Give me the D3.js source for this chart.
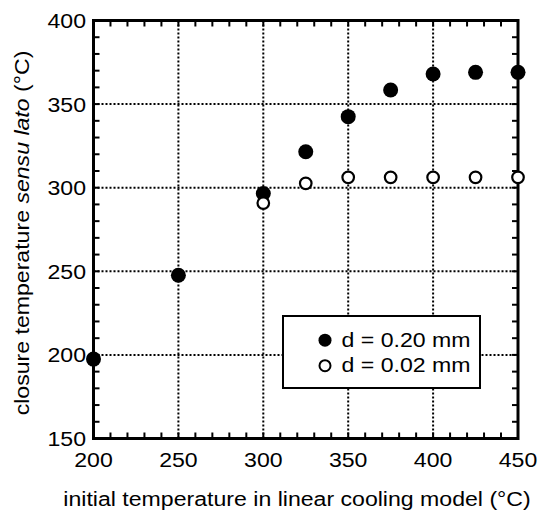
<!DOCTYPE html>
<html>
<head>
<meta charset="utf-8">
<script src="https://cdn.jsdelivr.net/npm/d3@7/dist/d3.min.js"></script>
<style>
  html, body { margin: 0; padding: 0; background: #fff; }
  svg { display: block; }
  text { font-family: "Liberation Sans", Arial, Helvetica, sans-serif; fill: #000; }
</style>
</head>
<body>
<svg id="chart" width="538" height="513"></svg>
<script>
// Initial temperature of the linear cooling model (°C)
const initialTemps = [200, 250, 300, 325, 350, 375, 400, 425, 450];
// Closure temperature for grain size d = 0.20 mm
const closureThick = [197.5, 247.6, 296.5, 321.5, 342.5, 358.4, 368, 369, 369];
// Closure temperature for grain size d = 0.02 mm (starts at 300 °C)
const initialTempsThin = [300, 325, 350, 375, 400, 425, 450];
const closureThin = [290.8, 302.6, 306.2, 306.2, 306.2, 306.2, 306.2];

const xTicks = [200, 250, 300, 350, 400, 450];
const yTicks = [150, 200, 250, 300, 350, 400];
const legendLabels = ["d = 0.20 mm", "d = 0.02 mm"];

const svg = d3.select("#chart");
const x = d3.scaleLinear().domain([200, 450]).range([93.5, 518]);
const y = d3.scaleLinear().domain([150, 400]).range([438.5, 20.5]);
const [x0, x1] = x.range();
const [y0, y1] = y.range();

// Helvetica-like lettering, slightly wide
const FS = 21, WIDE = 1.1;
const place = (px, py, rot) =>
  `translate(${px},${py})` + (rot ? ` rotate(${rot})` : "") + ` scale(${WIDE},1)`;

// dotted grid at the major values
const grid = svg.append("g")
  .attr("stroke", "#000").attr("stroke-width", 2).attr("stroke-dasharray", "2,2");
grid.selectAll("line.gx").data(xTicks.slice(1, -1)).join("line")
  .attr("x1", d => x(d)).attr("x2", d => x(d)).attr("y1", y1).attr("y2", y0);
grid.selectAll("line.gy").data(yTicks.slice(1, -1)).join("line")
  .attr("y1", d => y(d)).attr("y2", d => y(d)).attr("x1", x0).attr("x2", x1);

// minor ticks every 10 °C, pointing inward on all four sides
const minorX = d3.range(200, 451, 10);
const minorY = d3.range(150, 401, 10);
const tk = 6;
const ticks = svg.append("g").attr("stroke", "#000").attr("stroke-width", 2);
ticks.selectAll("line.b").data(minorX).join("line")
  .attr("x1", d => x(d)).attr("x2", d => x(d)).attr("y1", y0).attr("y2", y0 - tk);
ticks.selectAll("line.t").data(minorX).join("line")
  .attr("x1", d => x(d)).attr("x2", d => x(d)).attr("y1", y1).attr("y2", y1 + tk);
ticks.selectAll("line.l").data(minorY).join("line")
  .attr("y1", d => y(d)).attr("y2", d => y(d)).attr("x1", x0).attr("x2", x0 + tk);
ticks.selectAll("line.r").data(minorY).join("line")
  .attr("y1", d => y(d)).attr("y2", d => y(d)).attr("x1", x1).attr("x2", x1 - tk);

// frame
svg.append("rect")
  .attr("x", x0).attr("y", y1).attr("width", x1 - x0).attr("height", y0 - y1)
  .attr("fill", "none").attr("stroke", "#000").attr("stroke-width", 3);

// tick labels
svg.append("g").selectAll("text").data(xTicks).join("text")
  .attr("transform", d => place(x(d), 467))
  .attr("text-anchor", "middle").attr("font-size", FS)
  .text(d => d);
svg.append("g").selectAll("text").data(yTicks).join("text")
  .attr("transform", d => place(86, y(d) + 7.5))
  .attr("text-anchor", "end").attr("font-size", FS)
  .text(d => d);

// axis titles
svg.append("text")
  .attr("transform", place(297, 506))
  .attr("text-anchor", "middle").attr("font-size", FS)
  .text("initial temperature in linear cooling model (°C)");
const yTitle = svg.append("text")
  .attr("transform", place(29, 233, -90))
  .attr("text-anchor", "middle").attr("font-size", FS);
yTitle.append("tspan").text("closure temperature ");
yTitle.append("tspan").attr("font-style", "italic").text("sensu lato");
yTitle.append("tspan").text(" (°C)");

// data points
svg.append("g").selectAll("circle").data(initialTemps.map((t, i) => [t, closureThick[i]]))
  .join("circle")
  .attr("cx", d => x(d[0])).attr("cy", d => y(d[1])).attr("r", 7.5)
  .attr("fill", "#000");
svg.append("g").selectAll("circle").data(initialTempsThin.map((t, i) => [t, closureThin[i]]))
  .join("circle")
  .attr("cx", d => x(d[0])).attr("cy", d => y(d[1])).attr("r", 5.8)
  .attr("fill", "#fff").attr("stroke", "#000").attr("stroke-width", 2.2);

// legend
const lg = svg.append("g");
lg.append("rect")
  .attr("x", 283).attr("y", 316).attr("width", 197).attr("height", 72)
  .attr("fill", "#fff").attr("stroke", "#000").attr("stroke-width", 2);
const rows = lg.selectAll("g").data(legendLabels).join("g")
  .attr("transform", (d, i) => `translate(0,${i * 25.5})`);
rows.append("circle")
  .attr("cx", 325).attr("cy", 340.2).attr("r", (d, i) => i === 0 ? 6.5 : 5.5)
  .attr("fill", (d, i) => i === 0 ? "#000" : "#fff")
  .attr("stroke", "#000").attr("stroke-width", (d, i) => i === 0 ? 0 : 2);
rows.append("text")
  .attr("transform", place(341.5, 346.5))
  .attr("font-size", FS)
  .text(d => d);
</script>
</body>
</html>
